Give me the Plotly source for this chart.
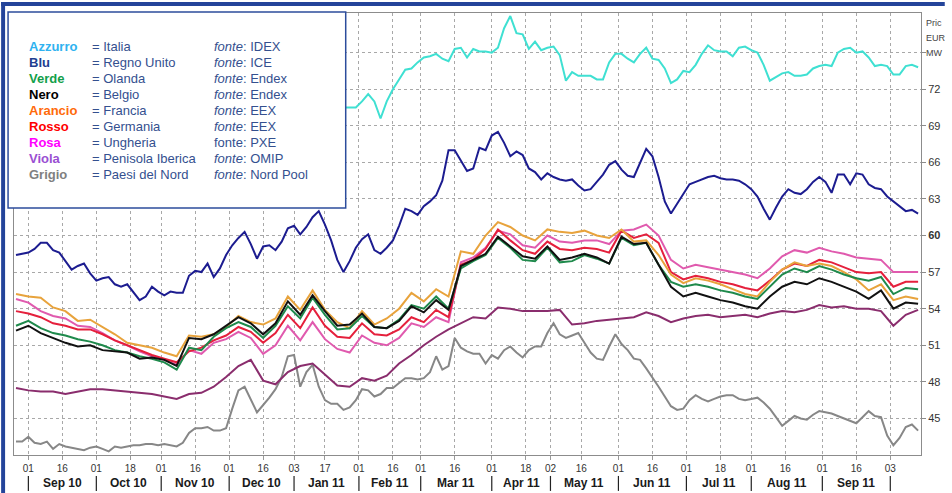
import numpy as np
import pandas as pd
import plotly.graph_objects as go

# ---------------- data ----------------
HOLIDAYS = ["2010-12-24", "2010-12-31", "2011-04-22", "2011-04-25"]
START = "2010-09-01"
TRADING_DAYS = pd.bdate_range("2010-08-26", "2011-10-14", freq="C", holidays=HOLIDAYS)
DATES_2 = TRADING_DAYS[::2]   # every 2nd trading day (Italia, Regno Unito, Paesi del Nord)
DATES_4 = TRADING_DAYS[::4]   # every 4th trading day (other series)
ITALIA_FIRST = 52             # Italia begins at this entry of DATES_2 (hidden by legend before)

italia = [70.5, 70.5, 70.5, 70.5, 71.0, 71.6, 71.0, 69.6, 71.0, 72.0,
          72.8, 73.6, 73.7, 74.2, 74.6, 74.7, 74.9, 74.5, 74.3, 75.3,
          75.4, 74.6, 75.3, 75.1, 75.1, 75.0, 75.4, 77.0, 78.0, 76.6,
          76.5, 75.3, 75.9, 75.2, 75.4, 75.5, 74.8, 72.7, 73.4, 73.1,
          73.1, 73.1, 72.8, 72.8, 74.2, 74.9, 74.9, 74.5, 74.2, 74.9,
          75.4, 74.5, 74.4, 73.7, 72.5, 72.8, 73.5, 73.4, 74.0, 74.9,
          75.6, 75.2, 75.1, 75.1, 74.7, 75.4, 75.5, 75.2, 75.0, 74.0,
          72.7, 73.0, 73.3, 73.4, 73.1, 73.1, 73.2, 73.7, 73.9, 74.0,
          73.9, 75.0, 75.3, 75.4, 75.0, 75.1, 74.6, 73.9, 74.0, 73.9,
          73.2, 73.2, 73.9, 74.0, 73.8]

regno_unito = [58.4, 58.5, 58.6, 58.9, 59.4, 59.4, 58.8, 58.6, 57.9, 57.2,
               57.5, 57.7, 56.9, 56.3, 56.5, 56.6, 56.0, 55.8, 56.0, 55.3,
               54.7, 55.0, 55.8, 55.4, 55.1, 55.4, 55.3, 55.3, 56.7, 57.1,
               57.0, 57.7, 56.6, 57.3, 58.4, 59.2, 59.8, 60.3, 59.3, 58.1,
               59.1, 59.2, 58.8, 59.5, 60.6, 60.8, 60.1, 60.7, 61.5, 62.0,
               60.9, 59.6, 58.0, 57.0, 57.9, 59.0, 59.7, 60.1, 58.8, 58.5,
               59.0, 59.6, 60.8, 62.2, 62.0, 61.7, 62.4, 62.8, 63.3, 64.5,
               67.0, 67.0, 66.1, 65.3, 65.5, 67.2, 67.0, 68.2, 68.5, 67.6,
               66.5, 66.9, 66.6, 65.5, 65.2, 64.6, 65.1, 64.8, 64.6, 64.5,
               64.6, 64.1, 63.7, 63.8, 64.4, 65.0, 65.8, 66.1, 65.4, 64.9,
               64.8, 65.9, 67.1, 66.5, 64.8, 62.8, 61.8, 62.6, 63.4, 64.2,
               64.4, 64.6, 64.8, 64.9, 64.7, 64.6, 64.6, 64.5, 64.2, 63.8,
               63.2, 62.2, 61.3, 62.3, 63.2, 63.8, 63.5, 63.4, 63.8, 64.4,
               64.8, 64.4, 63.5, 65.0, 65.0, 64.2, 65.1, 65.0, 64.2, 63.9,
               63.8, 63.2, 62.8, 62.4, 62.0, 62.1, 61.8]

nordici = [43.1, 43.1, 43.5, 43.0, 42.9, 43.1, 42.5, 42.9, 42.7, 42.6,
           42.5, 42.4, 42.6, 42.7, 42.5, 42.3, 42.7, 42.6, 42.7, 42.8,
           42.8, 42.9, 42.9, 42.8, 42.9, 42.8, 42.7, 43.0, 43.8, 44.2,
           44.2, 44.3, 44.0, 44.0, 44.2, 45.8, 47.3, 47.6, 46.5, 45.5,
           46.1, 46.7, 47.4, 48.4, 50.1, 50.2, 47.6, 48.8, 49.4, 47.6,
           46.5, 46.2, 46.2, 45.7, 45.9, 46.5, 47.4, 47.3, 46.8, 47.0,
           47.5, 47.5, 47.9, 48.3, 48.3, 48.2, 48.3, 48.8, 50.1, 49.0,
           49.3, 51.6, 50.8, 50.5, 50.3, 50.3, 49.5, 50.2, 49.9, 50.6,
           50.9, 50.4, 50.0, 50.6, 50.9, 50.9, 52.0, 52.8, 51.9, 51.6,
           51.8, 52.0, 51.2, 50.4, 49.9, 49.8, 50.9, 51.9, 51.1, 50.6,
           49.9, 49.8, 49.1, 48.4, 47.6, 46.8, 46.0, 45.7, 45.8, 46.5,
           46.9, 46.6, 46.4, 46.6, 46.8, 46.9, 46.9, 46.6, 46.5, 46.6,
           46.7, 46.3, 45.8, 45.1, 44.4, 44.8, 45.2, 45.0, 44.9, 45.3,
           45.6, 45.5, 45.4, 45.2, 45.0, 44.8, 44.6, 45.1, 45.6, 45.2,
           45.1, 43.6, 42.8, 43.4, 44.3, 44.5, 44.0]

francia = [55.2, 55.0, 54.9, 54.1, 53.8, 53.0, 53.1, 52.5, 51.9, 51.2,
           51.0, 50.8, 50.4, 50.1, 51.8, 51.7, 51.9, 52.5, 53.4, 52.9,
           52.7, 53.2, 55.0, 53.9, 55.5, 53.9, 52.9, 52.4, 53.8, 52.7,
           53.2, 54.0, 55.3, 54.6, 55.6, 55.0, 58.7, 58.5, 60.0, 61.1,
           60.7, 60.0, 59.6, 60.5, 60.3, 60.2, 60.4, 60.0, 59.8, 60.5,
           59.5, 59.6, 58.4, 56.8, 56.1, 56.5, 56.3, 56.0, 55.6, 55.2,
           55.0, 56.2, 57.2, 57.8, 57.5, 57.7, 57.5, 57.0, 56.4, 55.5,
           56.0, 54.7, 55.0, 54.8]

ungheria = [54.8, 54.5, 53.8, 53.4, 53.2, 52.6, 52.5, 52.0, 51.4, 51.0,
            50.5, 50.1, 49.8, 49.4, 50.6, 50.3, 51.2, 51.5, 52.1, 51.6,
            50.3, 51.0, 52.6, 51.4, 52.9, 51.5, 50.7, 50.4, 51.8, 51.2,
            51.0, 51.6, 52.8, 52.5, 53.3, 52.9, 57.8, 58.2, 59.0, 60.4,
            60.1, 59.2, 59.0, 60.0, 59.5, 59.4, 59.6, 59.6, 59.3, 60.4,
            60.5, 60.9, 60.0, 58.0, 57.3, 57.6, 57.4, 57.2, 57.0, 56.8,
            56.5, 57.3, 58.3, 58.8, 58.6, 59.0, 58.7, 58.5, 58.2, 58.1,
            58.0, 57.0, 57.0, 57.0]

germania = [53.8, 53.6, 53.3, 52.8, 52.6, 52.3, 52.3, 51.9, 51.4, 51.0,
            50.6, 50.2, 49.9, 49.6, 50.5, 50.8, 51.4, 51.8, 52.5, 52.1,
            51.2, 52.0, 53.5, 52.4, 54.1, 52.6, 51.7, 51.6, 52.8, 51.9,
            51.8, 52.3, 53.3, 52.9, 53.9, 53.3, 57.6, 58.0, 58.9, 60.5,
            59.6, 58.8, 58.5, 59.5, 58.9, 58.8, 59.0, 58.9, 58.6, 60.4,
            59.8, 60.1, 59.4, 57.0, 56.4, 56.7, 56.5, 56.2, 56.0, 55.7,
            55.5, 56.3, 57.2, 57.7, 57.5, 58.0, 57.8, 57.4, 57.0, 56.9,
            57.0, 55.8, 56.2, 56.2]

olanda = [52.6, 53.0, 52.4, 52.0, 51.8, 51.5, 51.3, 51.0, 50.6, 50.4,
          50.1, 49.9, 49.6, 49.0, 50.8, 50.6, 51.7, 52.4, 52.9, 52.5,
          51.6, 52.6, 54.2, 53.2, 54.9, 53.5, 52.3, 52.4, 53.4, 52.5,
          52.4, 53.1, 54.3, 54.0, 55.0, 54.0, 57.3, 57.9, 58.4, 59.8,
          59.0, 58.0, 57.9, 59.0, 57.8, 57.9, 58.4, 58.1, 57.7, 59.8,
          59.2, 59.4, 57.6, 56.2, 55.8, 56.0, 55.8, 55.5, 55.3, 55.0,
          54.8, 55.8, 56.8, 57.3, 57.0, 57.5, 57.2, 56.8, 56.5, 56.3,
          56.6, 55.2, 55.7, 55.6]

belgio = [52.2, 52.6, 52.0, 51.6, 51.2, 50.9, 51.0, 50.6, 50.5, 50.4,
          49.9, 50.0, 49.8, 49.3, 51.6, 51.5, 51.9, 52.6, 53.3, 52.8,
          51.9, 52.8, 54.6, 53.5, 55.1, 53.8, 52.6, 52.7, 53.6, 52.5,
          52.4, 53.0, 54.2, 53.7, 54.7, 53.9, 57.5, 58.0, 58.5, 59.9,
          59.1, 58.3, 58.1, 59.1, 58.0, 58.2, 58.5, 58.2, 57.7, 59.9,
          59.3, 59.4, 57.6, 55.8, 55.0, 55.3, 55.0, 54.7, 54.5, 54.2,
          54.0, 55.0, 55.8, 56.2, 56.0, 56.5, 56.2, 55.8, 55.4, 54.8,
          55.5, 54.0, 54.5, 54.4]

iberica = [47.5, 47.3, 47.2, 47.2, 47.0, 47.2, 47.4, 47.4, 47.3, 47.2,
           47.1, 47.0, 46.8, 46.6, 47.0, 47.1, 47.6, 48.4, 49.3, 49.8,
           48.1, 47.8, 48.8, 49.3, 49.5, 48.6, 47.7, 47.6, 48.3, 48.1,
           48.5, 49.5, 50.2, 51.0, 51.7, 52.3, 52.8, 53.3, 53.2, 54.1,
           54.0, 53.8, 53.8, 53.8, 53.9, 52.7, 52.8, 53.0, 53.1, 53.2,
           53.3, 53.7, 53.4, 52.9, 53.2, 53.4, 53.5, 53.3, 53.4, 53.5,
           53.3, 53.6, 53.8, 53.7, 53.9, 54.3, 54.1, 54.2, 54.0, 54.0,
           53.8, 52.6, 53.5, 53.9]

TICK_DATES = ["2010-09-01", "2010-09-16", "2010-10-01", "2010-10-18", "2010-11-01",
              "2010-11-16", "2010-12-01", "2010-12-16", "2011-01-03", "2011-01-17",
              "2011-02-01", "2011-02-16", "2011-03-01", "2011-03-16", "2011-04-01",
              "2011-04-18", "2011-05-02", "2011-05-16", "2011-06-01", "2011-06-16",
              "2011-07-01", "2011-07-18", "2011-08-01", "2011-08-16", "2011-09-01",
              "2011-09-16", "2011-10-03"]
MONTH_LABELS = ["Sep 10", "Oct 10", "Nov 10", "Dec 10", "Jan 11", "Feb 11", "Mar 11",
                "Apr 11", "May 11", "Jun 11", "Jul 11", "Aug 11", "Sep 11"]
Y_TICKS = [45, 48, 51, 54, 57, 60, 63, 66, 69, 72, 75]
Y_TICK_TEXT = ["45", "48", "51", "54", "57", "<b>60</b>", "63", "66", "69", "72", ""]
AXIS_TITLE = ["Pric", "EUR", "MW"]   # as visible at the right edge of the original

LEGEND_ROWS = [
    ("Azzurro", "#2fb2f0", "= Italia", "<i>fonte</i>: IDEX"),
    ("Blu", "#213f90", "= Regno Unito", "<i>fonte</i>: ICE"),
    ("Verde", "#12a04a", "= Olanda", "<i>fonte</i>: Endex"),
    ("Nero", "#000000", "= Belgio", "<i>fonte</i>: Endex"),
    ("Arancio", "#ff6a0a", "= Francia", "<i>fonte</i>: EEX"),
    ("Rosso", "#ff0000", "= Germania", "<i>fonte</i>: EEX"),
    ("Rosa", "#ff00ff", "= Ungheria", "fonte: PXE"),
    ("Viola", "#9a4fd2", "= Penisola Iberica", "<i>fonte</i>: OMIP"),
    ("Grigio", "#808080", "= Paesi del Nord", "<i>fonte</i>: Nord Pool"),
]

# ---------------- helpers ----------------
def bidx(dates):
    d = np.array(pd.to_datetime(dates).values, dtype="datetime64[D]")
    return np.busday_count(np.datetime64(START, "D"), d, holidays=HOLIDAYS)

X2 = bidx(DATES_2).astype(float)
X4 = bidx(DATES_4).astype(float)
TICKS = bidx(TICK_DATES)

W, H = 952, 493
L, R, T, B = 14, 930, 12, 455
def px(x):
    return (x - L) / (R - L)
def py(y):
    return (B - y) / (B - T)

series = [
    ("Paesi del Nord", nordici, "#878787", X2),
    ("Penisola Iberica", iberica, "#8a2d6d", X4),
    ("Ungheria", ungheria, "#e05aae", X4),
    ("Germania", germania, "#e5203c", X4),
    ("Francia", francia, "#e8a33c", X4),
    ("Olanda", olanda, "#1f8a4c", X4),
    ("Belgio", belgio, "#111111", X4),
    ("Regno Unito", regno_unito, "#1c1c90", X2),
    ("Italia", italia, "#3fe0d2", X2[ITALIA_FIRST:]),
]

fig = go.Figure()
end_x = X4[-1] + 2.8
for name, vals, col, xs in series:
    fig.add_trace(go.Scatter(x=xs[:len(vals)], y=vals, mode="lines", name=name,
                             line=dict(color=col, width=2), showlegend=False,
                             hoverinfo="skip"))
for name, vals, col, xs in series:
    fig.add_trace(go.Scatter(x=[end_x], y=[vals[-1]], mode="markers", showlegend=False,
                             marker=dict(symbol="diamond", size=8, color=col),
                             cliponaxis=False, hoverinfo="skip"))

FONT = "Liberation Sans, Arial, sans-serif"
fig.update_layout(
    width=W, height=H,
    margin=dict(l=L, r=W - R, t=T, b=H - B),
    paper_bgcolor="white", plot_bgcolor="white",
    font=dict(family=FONT, color="#333"),
    xaxis=dict(range=[-4.65, 288.94], tickmode="array", tickvals=TICKS,
               ticktext=[d[-2:] for d in TICK_DATES],
               tickfont=dict(size=10, color="#333"),
               ticks="outside", ticklen=4, tickcolor="#999",
               showgrid=True, gridcolor="#a8a8a8", griddash="3px,3px", gridwidth=1,
               showline=True, linecolor="#8c8c8c", linewidth=1, mirror=True,
               zeroline=False),
    yaxis=dict(range=[42, 78.25], side="right", tickmode="array", tickvals=Y_TICKS,
               ticktext=Y_TICK_TEXT, tickfont=dict(size=11, color="#333"),
               ticks="outside", ticklen=4, tickcolor="#8c8c8c",
               showgrid=True, gridcolor="#a8a8a8", griddash="3px,3px", gridwidth=1,
               showline=True, linecolor="#8c8c8c", linewidth=1, mirror=True,
               zeroline=False),
)

shapes = []
annotations = []
# month separators and labels
bounds = TICKS[::2]
for i in range(len(bounds)):
    shapes.append(dict(type="line", xref="x", yref="paper", x0=bounds[i], x1=bounds[i],
                       y0=py(476), y1=py(491), line=dict(color="#222", width=1.2)))
for i, lab in enumerate(MONTH_LABELS):
    annotations.append(dict(xref="x", yref="paper", x=(bounds[i] + bounds[i + 1]) / 2,
                            y=py(483), text="<b>%s</b>" % lab, showarrow=False,
                            xanchor="center", yanchor="middle",
                            font=dict(size=12, color="#1a1a1a", family=FONT)))
# legend box
shapes.append(dict(type="rect", xref="paper", yref="paper", x0=px(8), x1=px(349),
                   y0=py(207.5), y1=py(11), fillcolor="white",
                   line=dict(color="#2c4c9c", width=1.5), layer="above"))
for i, (lab, col, country, src) in enumerate(LEGEND_ROWS):
    yy = py(45.7 + 16 * i)
    annotations.append(dict(xref="paper", yref="paper", x=px(27), y=yy,
                            text="<b>%s</b>" % lab, showarrow=False,
                            xanchor="left", yanchor="middle",
                            font=dict(size=13, color=col, family=FONT)))
    annotations.append(dict(xref="paper", yref="paper", x=px(91), y=yy,
                            text=country, showarrow=False, xanchor="left", yanchor="middle",
                            font=dict(size=13, color="#34508f", family=FONT)))
    annotations.append(dict(xref="paper", yref="paper", x=px(213.5), y=yy,
                            text=src, showarrow=False, xanchor="left", yanchor="middle",
                            font=dict(size=13, color="#34508f", family=FONT)))
# axis title at the top right
for j, t in enumerate(AXIS_TITLE):
    annotations.append(dict(xref="paper", yref="paper", x=px(933), y=py(21.7 + 15 * j),
                            text=t, showarrow=False, xanchor="left", yanchor="middle",
                            font=dict(size=9, color="#444", family=FONT)))
# outer frame (left and top bars)
shapes.append(dict(type="rect", xref="paper", yref="paper", x0=px(1), x1=px(5),
                   y0=py(H + 2), y1=py(1), fillcolor="#24449a", line=dict(width=0),
                   layer="above"))
shapes.append(dict(type="rect", xref="paper", yref="paper", x0=px(1), x1=px(W + 2),
                   y0=py(5), y1=py(1), fillcolor="#24449a", line=dict(width=0),
                   layer="above"))
fig.update_layout(shapes=shapes, annotations=annotations)

fig.write_html("out.html", config={"displayModeBar": False},
               post_script="document.body.style.margin='0';document.body.style.overflow='hidden';")
